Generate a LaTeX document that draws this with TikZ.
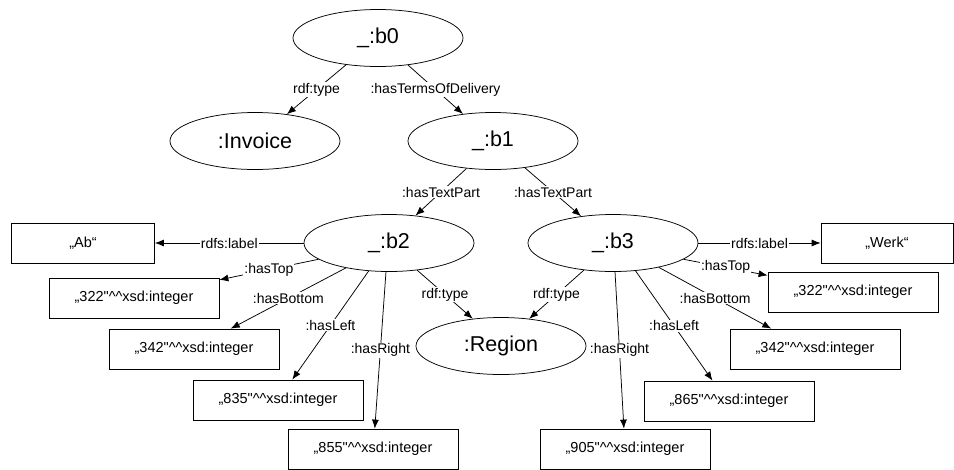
\documentclass[tikz,border=0pt]{standalone}
\usepackage{fontspec}
\setmainfont{Liberation Sans}[Ligatures=TeXOff]
\usetikzlibrary{shapes.geometric,arrows.meta}
\begin{document}
\begin{tikzpicture}[x=1pt,y=-1pt,line width=0.75pt,
  res/.style={draw,ellipse,minimum width=170pt,minimum height=57pt,inner sep=0pt,font=\fontsize{21.5}{24}\selectfont},
  lit/.style={draw,rectangle,minimum width=170pt,minimum height=40pt,inner sep=0pt,font=\fontsize{14.5}{17}\selectfont},
  lbl/.style={fill=white,inner sep=1pt,font=\fontsize{14}{16}\selectfont},
  arr/.style={-{Latex[length=9pt,width=7pt]}}]
\useasboundingbox (0,0) rectangle (954,469);
% resources
\node[res] (b0) at (378,38) {\_:b0};
\node[res] (invoice) at (255,141) {:Invoice};
\node[res] (b1) at (493,141) {\_:b1};
\node[res] (b2) at (389,243) {\_:b2};
\node[res] (b3) at (613,243) {\_:b3};
\node[res] (region) at (501,346) {:Region};
% literals of b2
\node[lit,minimum width=143pt] (ab) at (83,243) {„Ab“};
\node[lit] (topL) at (134,298) {„322"\textasciicircum\textasciicircum xsd:integer};
\node[lit] (botL) at (194,349) {„342"\textasciicircum\textasciicircum xsd:integer};
\node[lit] (leftL) at (278,400) {„835"\textasciicircum\textasciicircum xsd:integer};
\node[lit] (rightL) at (373,449) {„855"\textasciicircum\textasciicircum xsd:integer};
% literals of b3
\node[lit,minimum width=132pt] (werk) at (887,243) {„Werk“};
\node[lit] (topR) at (853,292) {„322"\textasciicircum\textasciicircum xsd:integer};
\node[lit] (botR) at (815,349) {„342"\textasciicircum\textasciicircum xsd:integer};
\node[lit] (leftR) at (729,401) {„865"\textasciicircum\textasciicircum xsd:integer};
\node[lit] (rightR) at (625,449) {„905"\textasciicircum\textasciicircum xsd:integer};
% edges
\draw[arr] (b0.220) -- node[lbl] {rdf:type} (invoice.40);
\draw[arr] (b0.318) -- node[lbl] {:hasTermsOfDelivery} (b1.138);
\draw[arr] (b1.226) -- node[lbl] {:hasTextPart} (b2.46);
\draw[arr] (b1.320) -- node[lbl] {:hasTextPart} (b3.140);
\draw[arr] (b2) -- node[lbl] {rdfs:label} (ab);
\draw[arr] (b2.193) -- node[lbl] {:hasTop} (topL.12);
\draw[arr] (b2.210) -- node[lbl] {:hasBottom} (botL.29);
\draw[arr] (b2.234) -- node[lbl] {:hasLeft} (leftL.55);
\draw[arr] (b2.264) -- node[lbl] {:hasRight} (rightL.85);
\draw[arr] (b2.316) -- node[lbl] {rdf:type} (region.136);
\draw[arr] (b3.223) -- node[lbl] {rdf:type} (region.44);
\draw[arr] (b3) -- node[lbl] {rdfs:label} (werk);
\draw[arr] (b3.347) -- node[lbl] {:hasTop} (topR.169);
\draw[arr] (b3.332) -- node[lbl] {:hasBottom} (botR.155);
\draw[arr] (b3.309) -- node[lbl] {:hasLeft} (leftR.129);
\draw[arr] (b3.274) -- node[lbl] {:hasRight} (rightR.93);
\end{tikzpicture}
\end{document}
